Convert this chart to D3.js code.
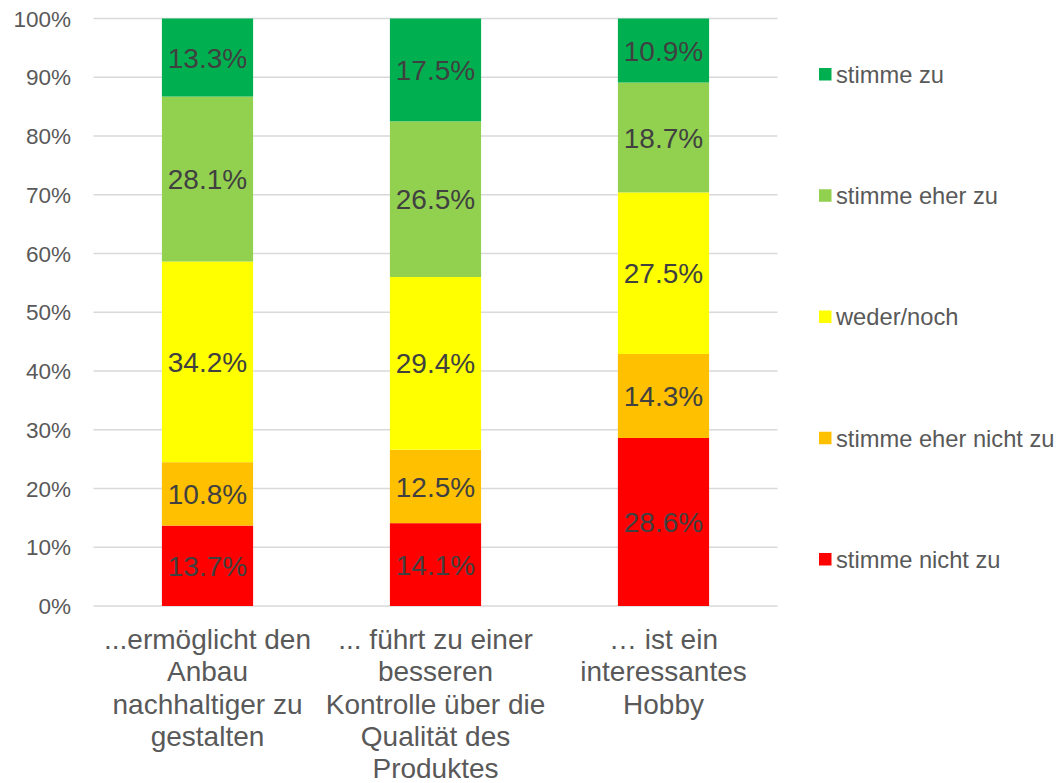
<!DOCTYPE html>
<html>
<head>
<meta charset="utf-8">
<script src="https://cdn.jsdelivr.net/npm/d3@7"></script>
<style>
  body { margin: 0; background: #fff; }
  text { font-family: "Liberation Sans", Arial, sans-serif; }
</style>
</head>
<body>
<div id="chart"></div>
<script>
const categories = [
    "...ermöglicht den\nAnbau\nnachhaltiger zu\ngestalten",
    "... führt zu einer\nbesseren\nKontrolle über die\nQualität des\nProduktes",
    "… ist ein\ninteressantes\nHobby"
];
const seriesNames = ["stimme nicht zu", "stimme eher nicht zu", "weder/noch", "stimme eher zu", "stimme zu"];
const seriesColors = ["#FF0000", "#FFC000", "#FFFF00", "#92D050", "#00B050"];
const stimmeNichtZu = [13.7, 14.1, 28.6];
const stimmeEherNichtZu = [10.8, 12.5, 14.3];
const wederNoch = [34.2, 29.4, 27.5];
const stimmeEherZu = [28.1, 26.5, 18.7];
const stimmeZu = [13.3, 17.5, 10.9];
const yTicks = [0, 0.1, 0.2, 0.3, 0.4, 0.5, 0.6, 0.7, 0.8, 0.9, 1];

const width = 1061;
const height = 783;
const margin = { top: 18.5, right: 283.5, bottom: 177, left: 93.5 };

const allSeries = [stimmeNichtZu, stimmeEherNichtZu, wederNoch, stimmeEherZu, stimmeZu];
const rows = categories.map((c, i) => {
    const row = { cat: c };
    seriesNames.forEach((s, j) => row[s] = allSeries[j][i]);
    return row;
});

const stacked = d3.stack()
    .keys(seriesNames)
    .offset(d3.stackOffsetExpand)(rows);

const x = d3.scaleBand()
    .domain(categories)
    .range([margin.left, width - margin.right])
    .paddingInner(0.6)
    .paddingOuter(0.3);

const y = d3.scaleLinear()
    .domain([0, 1])
    .range([height - margin.bottom, margin.top]);

const color = d3.scaleOrdinal().domain(seriesNames).range(seriesColors);

const svg = d3.select("#chart")
    .append("svg")
    .attr("width", width)
    .attr("height", height);

// gridlines
svg.append("g")
    .selectAll("line")
    .data(yTicks)
    .join("line")
    .attr("x1", margin.left)
    .attr("x2", width - margin.right)
    .attr("y1", d => y(d))
    .attr("y2", d => y(d))
    .attr("stroke", "#d9d9d9")
    .attr("stroke-width", 1.5);

// y tick labels
svg.append("g")
    .selectAll("text")
    .data(yTicks)
    .join("text")
    .attr("x", 71)
    .attr("y", d => y(d) + 8)
    .attr("text-anchor", "end")
    .attr("fill", "#595959")
    .style("font-size", "22.5px")
    .text(d3.format(".0%"));

// bars
const layer = svg.append("g")
    .selectAll("g")
    .data(stacked)
    .join("g")
    .attr("fill", d => color(d.key));

layer.selectAll("rect")
    .data(d => d)
    .join("rect")
    .attr("x", d => x(d.data.cat))
    .attr("width", x.bandwidth())
    .attr("y", d => y(d[1]))
    .attr("height", d => y(d[0]) - y(d[1]));

// data labels
svg.append("g")
    .selectAll("g")
    .data(stacked)
    .join("g")
    .selectAll("text")
    .data(d => d.map(p => ({ p, key: d.key })))
    .join("text")
    .attr("x", d => x(d.p.data.cat) + x.bandwidth() / 2)
    .attr("y", d => y((d.p[0] + d.p[1]) / 2))
    .attr("dy", "0.36em")
    .attr("text-anchor", "middle")
    .attr("fill", "#404040")
    .style("font-size", "28px")
    .text(d => d.p.data[d.key].toFixed(1) + "%");

// category labels
svg.append("g")
    .selectAll("text")
    .data(categories)
    .join("text")
    .attr("text-anchor", "middle")
    .attr("fill", "#595959")
    .style("font-size", "28px")
    .attr("transform", d => `translate(${x(d) + x.bandwidth() / 2},649)`)
    .selectAll("tspan")
    .data(d => d.split("\n"))
    .join("tspan")
    .attr("x", 0)
    .attr("y", (d, i) => i * 32.3)
    .text(d => d);

// legend (top entry = last series)
const legendY = d3.scalePoint()
    .domain(seriesNames.slice().reverse())
    .range([74.5, 559.5]);

const legend = svg.append("g")
    .selectAll("g")
    .data(seriesNames)
    .join("g")
    .attr("transform", d => `translate(819,${legendY(d)})`);

legend.append("rect")
    .attr("x", 0)
    .attr("y", -6.5)
    .attr("width", 12.5)
    .attr("height", 12.5)
    .attr("fill", d => color(d));

legend.append("text")
    .attr("x", 17)
    .attr("y", 0)
    .attr("dy", "0.35em")
    .attr("fill", "#595959")
    .style("font-size", "23.7px")
    .text(d => d);
</script>
</body>
</html>
